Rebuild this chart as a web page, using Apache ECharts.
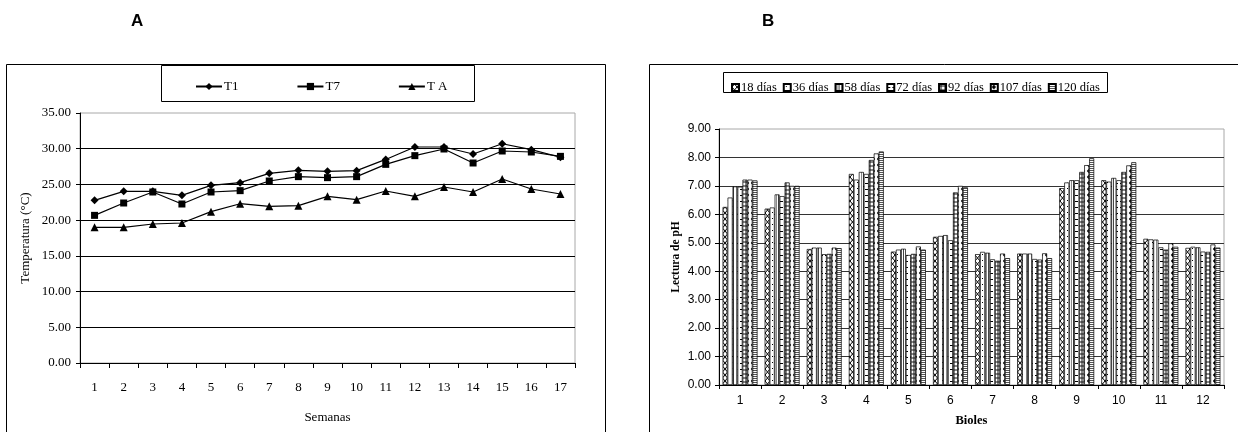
<!DOCTYPE html>
<html>
<head>
<meta charset="utf-8">
<script src="https://cdn.jsdelivr.net/npm/echarts@6/dist/echarts.min.js"></script>
<style>
  html, body { margin: 0; padding: 0; background: #fff; }
  #chart { width: 1238px; height: 432px; }
</style>
</head>
<body>
<div id="chart"></div>
<script>
// Panel A: weekly temperatures
const weeks = ['1','2','3','4','5','6','7','8','9','10','11','12','13','14','15','16','17'];
const t1 = [22.77, 24.03, 24.03, 23.47, 24.87, 25.25, 26.55, 26.97, 26.83, 26.93, 28.5, 30.24, 30.24, 29.26, 30.7, 29.87, 28.8];
const t7 = [20.67, 22.4, 23.94, 22.26, 23.94, 24.13, 25.48, 26.09, 25.95, 26.09, 27.81, 29.03, 29.96, 28.0, 29.68, 29.54, 28.93];
const tA = [18.99, 19.0, 19.46, 19.6, 21.19, 22.3, 21.93, 22.03, 23.33, 22.87, 24.08, 23.33, 24.64, 23.94, 25.76, 24.36, 23.66];

// Panel B: pH readings of each biol over time
const bioles = ['1','2','3','4','5','6','7','8','9','10','11','12'];
const ph18  = [6.26, 6.20, 4.78, 7.42, 4.69, 5.21, 4.60, 4.62, 6.92, 7.20, 5.14, 4.82];
const ph36  = [6.59, 6.24, 4.83, 7.22, 4.76, 5.24, 4.68, 4.62, 7.12, 7.15, 5.12, 4.86];
const ph58  = [6.98, 6.70, 4.83, 7.49, 4.79, 5.27, 4.65, 4.62, 7.20, 7.28, 5.11, 4.84];
const ph72  = [6.97, 6.64, 4.60, 7.42, 4.57, 5.09, 4.42, 4.43, 7.20, 7.20, 4.84, 4.69];
const ph92  = [7.22, 7.12, 4.61, 7.91, 4.61, 6.77, 4.37, 4.41, 7.49, 7.49, 4.76, 4.68];
const ph107 = [7.22, 7.00, 4.83, 8.14, 4.87, 7.00, 4.62, 4.63, 7.73, 7.72, 4.98, 4.94];
const ph120 = [7.19, 7.00, 4.81, 8.21, 4.76, 6.95, 4.46, 4.46, 7.97, 7.83, 4.86, 4.83];
const dayLabels = ['18 días', '36 días', '58 días', '72 días', '92 días', '107 días', '120 días'];

// Monochrome fill patterns for the bars
function pattern(w, h, draw) {
  const c = document.createElement('canvas');
  c.width = w; c.height = h;
  const g = c.getContext('2d');
  g.fillStyle = '#fff';
  g.fillRect(0, 0, w, h);
  draw(g);
  return { image: c, repeat: 'repeat' };
}
function diamond(g, cx, cy, rx, ry) {
  g.beginPath();
  g.moveTo(cx, cy - ry); g.lineTo(cx + rx, cy); g.lineTo(cx, cy + ry); g.lineTo(cx - rx, cy);
  g.closePath();
}
const fills = [
  pattern(5, 6, g => { g.strokeStyle = '#000'; g.lineWidth = 1; diamond(g, 2.5, 3, 2.5, 3); g.stroke(); }),
  pattern(5, 6, g => { g.fillStyle = '#000'; g.fillRect(2, 2, 1, 1); }),
  pattern(5, 2, g => { g.fillStyle = '#8a8a8a'; g.fillRect(1, 0, 1, 2); g.fillStyle = '#444'; g.fillRect(3, 0, 1, 2); }),
  pattern(5, 6, g => { g.fillStyle = '#000'; g.fillRect(0, 3, 3, 1); }),
  pattern(4, 4, g => { g.fillStyle = '#111'; diamond(g, 2, 2, 2, 2); g.fill(); g.fillStyle = '#fff'; g.fillRect(1.5, 1.5, 1, 1); }),
  pattern(6, 6, g => { g.fillStyle = '#000'; diamond(g, 3, 3, 2.2, 2.6); g.fill(); }),
  pattern(2, 2, g => { g.fillStyle = '#555'; g.fillRect(0, 0, 2, 1); })
];
const phSeries = [ph18, ph36, ph58, ph72, ph92, ph107, ph120];

const serif = 'Liberation Serif';
const sans = 'Liberation Sans';

const chart = echarts.init(document.getElementById('chart'), null, { renderer: 'canvas' });

const lineSeries = [
  { name: 'T1', data: t1, symbol: 'diamond', symbolSize: 8 },
  { name: 'T7', data: t7, symbol: 'rect', symbolSize: 7 },
  { name: 'T A', data: tA, symbol: 'triangle', symbolSize: 8 }
].map(s => Object.assign({
  type: 'line', xAxisIndex: 0, yAxisIndex: 0,
  itemStyle: { color: '#000' },
  lineStyle: { color: '#000', width: 1.2 },
  emphasis: { disabled: true }
}, s));

const barSeries = dayLabels.map((name, i) => ({
  name, type: 'bar', xAxisIndex: 1, yAxisIndex: 1,
  data: phSeries[i],
  barGap: 0, barCategoryGap: '17%',
  itemStyle: { color: fills[i], borderColor: '#000', borderWidth: 0.7 },
  emphasis: { disabled: true }
}));

chart.setOption({
  animation: false,
  backgroundColor: '#fff',
  graphic: [
    { type: 'text', left: 131, top: 13, style: { text: 'A', font: 'bold 17px "Liberation Sans"', fill: '#000' } },
    { type: 'text', left: 762, top: 13, style: { text: 'B', font: 'bold 17px "Liberation Sans"', fill: '#000' } },
    { type: 'rect', shape: { x: 6.5, y: 64.5, width: 599, height: 420 }, style: { fill: 'none', stroke: '#000', lineWidth: 1 }, z: -10 },
    { type: 'rect', shape: { x: 649.5, y: 64.5, width: 640, height: 420 }, style: { fill: 'none', stroke: '#000', lineWidth: 1 }, z: -10 },
    { type: 'rect', shape: { x: 161.5, y: 65.5, width: 313, height: 36 }, style: { fill: '#fff', stroke: '#000', lineWidth: 1 }, z: -5 },
    { type: 'rect', shape: { x: 723.5, y: 72.5, width: 384, height: 20 }, style: { fill: '#fff', stroke: '#000', lineWidth: 1 }, z: -5 }
  ],
  legend: [
    {
      data: ['T1', 'T7', 'T A'],
      left: 190, top: 75,
      itemWidth: 26, itemHeight: 9, itemGap: 58,
      textStyle: { fontFamily: serif, fontSize: 13, color: '#000', padding: [0, 0, 0, -3] },
      selectedMode: false
    },
    {
      data: dayLabels,
      left: 726, top: 76,
      icon: 'rect', itemWidth: 7, itemHeight: 7, itemGap: 6,
      textStyle: { fontFamily: serif, fontSize: 12.5, color: '#000', padding: [0, 0, 0, -3] },
      selectedMode: false
    }
  ],
  grid: [
    { left: 80, top: 113, width: 495, height: 250, show: true, borderColor: '#a8a8a8', borderWidth: 1, backgroundColor: 'transparent' },
    { left: 719, top: 129, width: 505, height: 258, show: true, borderColor: '#a8a8a8', borderWidth: 1, backgroundColor: 'transparent' }
  ],
  xAxis: [
    {
      type: 'category', gridIndex: 0, data: weeks, boundaryGap: true,
      axisLine: { lineStyle: { color: '#000', width: 1 } },
      axisTick: { show: true, length: 5, interval: 0, lineStyle: { color: '#000' } },
      axisLabel: { fontFamily: serif, fontSize: 13, color: '#000', margin: 18, interval: 0 },
      name: 'Semanas', nameLocation: 'middle', nameGap: 48,
      nameTextStyle: { fontFamily: serif, fontSize: 13, color: '#000' }
    },
    {
      type: 'category', gridIndex: 1, data: bioles, boundaryGap: true,
      axisLine: { lineStyle: { color: '#000', width: 1 } },
      axisTick: { show: true, length: 4, interval: 0, lineStyle: { color: '#000' } },
      axisLabel: { fontFamily: sans, fontSize: 12, color: '#000', margin: 10, interval: 0 },
      name: 'Bioles', nameLocation: 'middle', nameGap: 29,
      nameTextStyle: { fontFamily: serif, fontSize: 12.5, fontWeight: 'bold', color: '#000' }
    }
  ],
  yAxis: [
    {
      type: 'value', gridIndex: 0, min: 0, max: 35, interval: 5,
      axisLine: { show: true, lineStyle: { color: '#000', width: 1 } },
      axisTick: { show: true, length: 4, lineStyle: { color: '#000' } },
      axisLabel: { fontFamily: serif, fontSize: 13, color: '#000', margin: 9, formatter: v => v.toFixed(2) },
      splitLine: { show: true, showMaxLine: false, lineStyle: { color: '#000', width: 1 } },
      name: 'Temperatura (°C)', nameLocation: 'middle', nameGap: 48,
      nameTextStyle: { fontFamily: serif, fontSize: 13, color: '#000' }
    },
    {
      type: 'value', gridIndex: 1, min: 0, max: 9, interval: 1,
      axisLine: { show: true, lineStyle: { color: '#000', width: 1 } },
      axisTick: { show: true, length: 4, lineStyle: { color: '#000' } },
      axisLabel: { fontFamily: sans, fontSize: 12, color: '#000', margin: 8, formatter: v => v.toFixed(2) },
      splitLine: { show: true, showMaxLine: false, lineStyle: { color: '#333', width: 1 } },
      name: 'Lectura de pH', nameLocation: 'middle', nameGap: 37,
      nameTextStyle: { fontFamily: serif, fontSize: 11.5, fontWeight: 'bold', color: '#000' }
    }
  ],
  series: lineSeries.concat(barSeries)
});
</script>
</body>
</html>
